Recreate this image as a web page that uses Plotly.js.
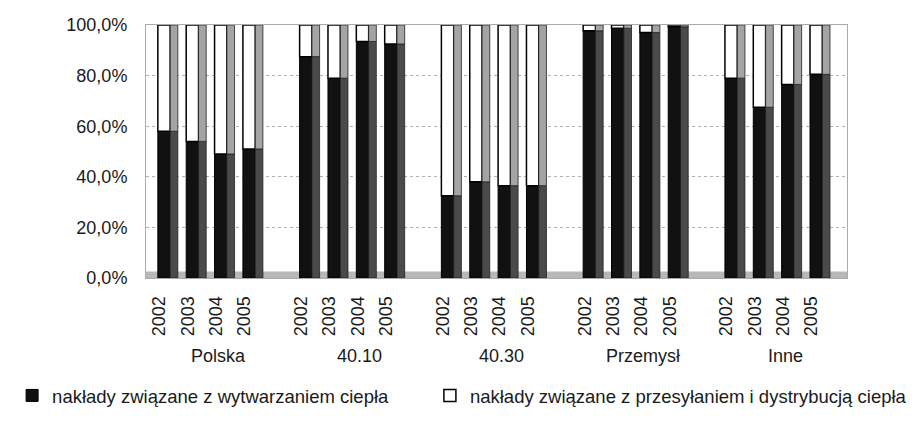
<!DOCTYPE html>
<html>
<head>
<meta charset="utf-8">
<script src="https://cdn.plot.ly/plotly-3.0.1.min.js"></script>
<style>html,body{margin:0;padding:0;background:#fff;}#chart{width:924px;height:427px;}</style>
</head>
<body>
<div id="chart"></div>
<script>
// Categories
const groups = ['Polska', '40.10', '40.30', 'Przemysł', 'Inne'];
const years = ['2002', '2003', '2004', '2005'];

// Share of outlays related to heat generation (%), in group order, years 2002-2005
const production = [
  58.0, 54.0, 49.0, 51.0,     // Polska
  87.5, 79.0, 93.5, 92.5,     // 40.10
  32.5, 38.0, 36.5, 36.5,     // 40.30
  97.7, 98.7, 97.0, 99.3,     // Przemysł
  79.0, 67.5, 76.5, 80.5      // Inne
];
// Share of outlays related to heat transmission and distribution (%)
const transmission = [
  42.0, 46.0, 51.0, 49.0,
  12.5, 21.0, 6.5, 7.5,
  67.5, 62.0, 63.5, 63.5,
  2.3, 1.3, 3.0, 0.7,
  21.0, 32.5, 23.5, 19.5
];

// Y tick labels
const yTickVals = [0, 20, 40, 60, 80, 100];
const yTickText = ['0,0%', '20,0%', '40,0%', '60,0%', '80,0%', '100,0%'];

const seriesNames = [
  'nakłady związane z wytwarzaniem ciepła',
  'nakłady związane z przesyłaniem i dystrybucją ciepła'
];

// positions: one empty slot between groups
const xs = [], tickText = [];
groups.forEach((g, gi) => years.forEach((y, yi) => { xs.push(gi * 5 + yi); tickText.push(y); }));
const groupCenters = groups.map((g, gi) => gi * 5 + 1.5);

const FONT = '"Liberation Sans", Arial, sans-serif';
const FRONT_W = 0.435, FRONT_OFF = -0.055;
const SIDE_W = 0.27, SIDE_OFF = 0.38;

const traces = [
  {
    type: 'bar', name: seriesNames[0], legend: 'legend', x: xs, y: production, base: 0,
    width: FRONT_W, offset: FRONT_OFF,
    marker: {color: '#111111', line: {color: '#000000', width: 1}},
    hoverinfo: 'skip'
  },
  {
    type: 'bar', name: seriesNames[1], legend: 'legend2', x: xs, y: transmission, base: production,
    width: FRONT_W, offset: FRONT_OFF,
    marker: {color: '#ffffff', line: {color: '#000000', width: 1.5}},
    hoverinfo: 'skip'
  },
  {
    type: 'bar', x: xs, y: production, base: 0, showlegend: false,
    width: SIDE_W, offset: SIDE_OFF,
    marker: {color: '#4a4a4a', line: {color: '#222', width: 0.8}},
    hoverinfo: 'skip'
  },
  {
    type: 'bar', x: xs, y: transmission, base: production, showlegend: false,
    width: SIDE_W, offset: SIDE_OFF,
    marker: {color: '#a4a4a4', line: {color: '#222', width: 0.8}},
    hoverinfo: 'skip'
  }
];

const annotations = groups.map((g, gi) => ({
  text: g, x: groupCenters[gi] + 0.57, xref: 'x', y: -0.31, yref: 'paper',
  xanchor: 'center', yanchor: 'middle', showarrow: false,
  font: {family: FONT, size: 18, color: '#1a1a1a'}
}));

const legendCommon = {
  orientation: 'h', xanchor: 'left', y: -0.466, yanchor: 'middle',
  font: {family: FONT, size: 18.5, color: '#1a1a1a'},
  bgcolor: 'rgba(0,0,0,0)', borderwidth: 0, itemwidth: 30
};

const layout = {
  width: 924, height: 427,
  margin: {l: 137, r: 19, t: 25, b: 134},
  paper_bgcolor: '#ffffff', plot_bgcolor: '#ffffff',
  barmode: 'overlay',
  font: {family: FONT, size: 18, color: '#1a1a1a'},
  xaxis: {
    range: [-0.473, 24.25],
    tickmode: 'array', tickvals: xs, ticktext: tickText,
    tickangle: -90, ticks: '', showgrid: false, zeroline: false,
    showline: true, linecolor: '#aaaaaa', linewidth: 1, mirror: true,
    ticklabelstandoff: 10,
    tickfont: {family: FONT, size: 18, color: '#1a1a1a'}
  },
  yaxis: {
    range: [0, 100],
    tickmode: 'array', tickvals: yTickVals, ticktext: yTickText, ticks: '',
    showgrid: true, gridcolor: '#b0b0b0', griddash: 'dot', gridwidth: 1,
    zeroline: false, showline: true, linecolor: '#aaaaaa', linewidth: 1, mirror: true,
    ticklabelstandoff: 14,
    tickfont: {family: FONT, size: 18, color: '#1a1a1a'}
  },
  shapes: [
    {type: 'rect', xref: 'paper', yref: 'y', x0: 0, x1: 1, y0: 0, y1: 2.6,
     fillcolor: '#b8b8b8', line: {width: 0}, layer: 'below'}
  ],
  annotations: annotations,
  showlegend: true,
  legend: Object.assign({}, legendCommon, {x: -0.191}),
  legend2: Object.assign({}, legendCommon, {x: 0.405})
};

Plotly.newPlot('chart', traces, layout, {displayModeBar: false, staticPlot: true});
</script>
</body>
</html>
